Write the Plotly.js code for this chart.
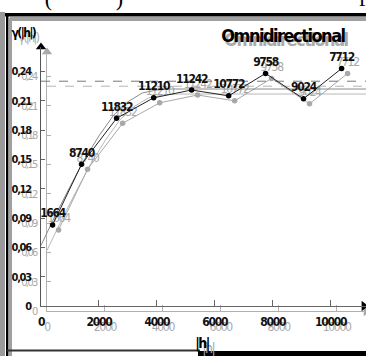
<!DOCTYPE html>
<html>
<head>
<meta charset="utf-8">
<script src="https://cdn.plot.ly/plotly-3.0.1.min.js"></script>
<style>
html,body{margin:0;padding:0;background:#fff;}
#chart{width:366px;height:356px;}
#chart text{letter-spacing:-1.3px;font-stretch:condensed;}
#chart .ytick text{letter-spacing:-1.6px;}
#chart .annotation-text{letter-spacing:-1.5px;}
</style>
</head>
<body>
<div id="chart"></div>
<script>
// ---- data ----
const pairCounts = ["1664", "8740", "11832", "11210", "11242", "10772", "9758", "9024", "7712"];
const lagDist    = [400, 1400, 2610, 3890, 5200, 6480, 7755, 9065, 10380];
const gammaVals  = [0.083, 0.145, 0.192, 0.213, 0.221, 0.215, 0.238, 0.212, 0.243];
const modelDist  = [0, 500, 1000, 1500, 2000, 2500, 3000, 3500, 4000, 4500, 11300];
const modelGamma = [0.062, 0.093, 0.122, 0.150, 0.174, 0.195, 0.209, 0.218, 0.221, 0.222, 0.222];
const sillDist   = [0, 11300];
const sillGamma  = [0.230, 0.230];
const xTickVals  = [0, 2000, 4000, 6000, 8000, 10000];
const xTickText  = ["0", "2000", "4000", "6000", "8000", "10000"];
const yTickVals  = [0, 0.03, 0.06, 0.09, 0.12, 0.15, 0.18, 0.21, 0.24];
const yTickText  = ["0", "0,03", "0,06", "0,09", "0,12", "0,15", "0,18", "0,21", "0,24"];
const yTop = 0.265;

// ---- geometry helpers ----
const L = 41, T = 47, W = 325, H = 264;
const px = x => (x - L) / W;
const py = y => (T + H - y) / H;

const FONT = "Liberation Sans Narrow, DejaVu Sans Condensed, Arial Narrow, Liberation Sans, sans-serif";
const ghost = "#a8a8a8";

function layerTraces(xa, ya, isGhost) {
  const lineCol = isGhost ? ghost : "#222";
  const modelCol = isGhost ? "#b8b8b8" : "#8a8a8a";
  return [
    {x: sillDist, y: sillGamma, xaxis: xa, yaxis: ya, mode: "lines",
     line: {color: isGhost ? "#b5b5b5" : "#777", width: 1, dash: "dash"}, hoverinfo: "skip"},
    {x: modelDist, y: modelGamma, xaxis: xa, yaxis: ya, mode: "lines",
     line: {color: modelCol, width: 1}, hoverinfo: "skip"},
    {x: lagDist, y: gammaVals, xaxis: xa, yaxis: ya, mode: "lines+markers+text",
     text: pairCounts, textposition: "top center",
     textfont: {family: FONT, size: 12, color: isGhost ? ghost : "#111", weight: isGhost ? "normal" : "bold"},
     line: {color: lineCol, width: 1},
     marker: {color: isGhost ? ghost : "#000", size: 5.5}, cliponaxis: false, hoverinfo: "skip"},
    {x: [0], y: [yTop], xaxis: xa, yaxis: ya, mode: "markers",
     marker: {symbol: "triangle-up", size: 9, color: isGhost ? ghost : "#000"}, cliponaxis: false, hoverinfo: "skip"},
    {x: [isGhost ? 11015 : 11150], y: [0], xaxis: xa, yaxis: ya, mode: "markers",
     marker: {symbol: "triangle-right", size: 9, color: isGhost ? ghost : "#000"}, cliponaxis: false, hoverinfo: "skip"}
  ];
}

const data = layerTraces("x", "y", true).concat(layerTraces("x2", "y2", false));

function axX(isGhost, dom, rng, anchor) {
  return {domain: dom, range: rng, anchor: anchor, showgrid: false, zeroline: false,
    showline: true, linecolor: isGhost ? "#b0b0b0" : "#666", linewidth: 1,
    ticks: "inside", ticklen: 6, tickcolor: isGhost ? "#b0b0b0" : "#666",
    tickvals: xTickVals, ticktext: xTickText, ticklabelstandoff: 5,
    tickfont: {family: FONT, size: 12, color: isGhost ? ghost : "#111", weight: isGhost ? "normal" : "bold"}};
}
function axY(isGhost, dom, anchor) {
  return {domain: dom, range: [0, yTop], anchor: anchor, showgrid: false, zeroline: false,
    showline: true, linecolor: isGhost ? "#b0b0b0" : "#555", linewidth: 1,
    ticks: "inside", ticklen: 4, tickcolor: isGhost ? "#b0b0b0" : "#666",
    tickvals: yTickVals, ticktext: yTickText, ticklabelstandoff: 7,
    tickfont: {family: FONT, size: 11, color: isGhost ? ghost : "#111", weight: isGhost ? "normal" : "bold"}};
}

const shapes = [
  {type: "rect", xref: "paper", yref: "paper", x0: px(0), x1: px(5), y0: py(12), y1: py(357), fillcolor: "#9a9a9a", line: {width: 0}},
  {type: "rect", xref: "paper", yref: "paper", x0: px(6), x1: px(8.5), y0: py(13), y1: py(357), fillcolor: "#000", line: {width: 0}},
  {type: "rect", xref: "paper", yref: "paper", x0: px(8.5), x1: px(12), y0: py(18), y1: py(357), fillcolor: "#a0a0a0", line: {width: 0}},
  {type: "rect", xref: "paper", yref: "paper", x0: px(5), x1: px(367), y0: py(13), y1: py(16.5), fillcolor: "#000", line: {width: 0}},
  {type: "rect", xref: "paper", yref: "paper", x0: px(10), x1: px(367), y0: py(17), y1: py(21), fillcolor: "#a0a0a0", line: {width: 0}},
  {type: "rect", xref: "paper", yref: "paper", x0: px(7), x1: px(200), y0: py(349.5), y1: py(351.5), fillcolor: "#333", line: {width: 0}},
  {type: "rect", xref: "paper", yref: "paper", x0: px(198), x1: px(367), y0: py(351), y1: py(357), fillcolor: "#000", line: {width: 0}}
];

function ann(text, x, y, opts) {
  return Object.assign({text: text, xref: "paper", yref: "paper", x: px(x), y: py(y),
    showarrow: false, xanchor: "center", yanchor: "middle"}, opts);
}
const annotations = [
  ann("Omnidirectional", 361, 40, {xanchor: "right", font: {family: FONT, size: 18, color: "#aaa", weight: "bold"}}),
  ann("Omnidirectional", 358, 36, {xanchor: "right", font: {family: FONT, size: 18, color: "#000", weight: "bold"}}),
  ann("γ(|h|)", 28, 38, {font: {family: FONT, size: 12, color: ghost}}),
  ann("γ(|h|)", 23, 33, {font: {family: FONT, size: 12, color: "#000", weight: "bold"}}),
  ann("|h|", 208, 348, {font: {family: FONT, size: 14, color: ghost}}),
  ann("|h|", 202, 343, {font: {family: FONT, size: 14, color: "#000", weight: "bold"}}),
  ann("(", 47, -2, {font: {family: "Liberation Serif, serif", size: 22, color: "#000"}}),
  ann(")", 118, -2, {font: {family: "Liberation Serif, serif", size: 22, color: "#000"}}),
  ann("f", 362, -1, {font: {family: "Liberation Serif, serif", size: 22, color: "#000"}})
];

const layout = {
  width: 366, height: 356,
  margin: {l: L, r: 0, t: T, b: 356 - T - H, pad: 0},
  paper_bgcolor: "#fff", plot_bgcolor: "rgba(0,0,0,0)",
  showlegend: false,
  xaxis: axX(true, [6 / W, 1], [0, 319 / 0.02896], "y"),
  yaxis: axY(true, [0, 259 / H], "x"),
  xaxis2: axX(false, [0, 1], [0, 325 / 0.02896], "y2"),
  yaxis2: axY(false, [5 / H, 1], "x2"),
  shapes: shapes,
  annotations: annotations
};

Plotly.newPlot("chart", data, layout, {staticPlot: true, displayModeBar: false});
</script>
</body>
</html>
